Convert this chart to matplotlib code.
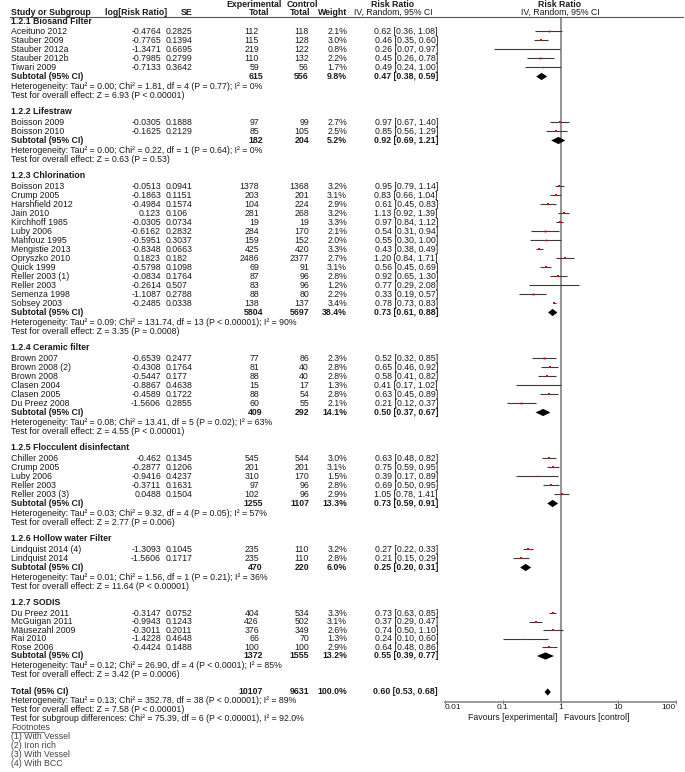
import matplotlib
matplotlib.use("Agg")
import matplotlib.pyplot as plt
from matplotlib.transforms import blended_transform_factory
from matplotlib.lines import Line2D

plt.rcParams['font.family'] = ['Liberation Sans', 'DejaVu Sans']

# ---- data ----
group_titles = ["1.2.1 Biosand Filter", "1.2.2 Lifestraw", "1.2.3 Chlorination",
                "1.2.4 Ceramic filter", "1.2.5 Flocculent disinfectant",
                "1.2.6 Hollow water Filter", "1.2.7 SODIS"]
group_sizes = [5, 2, 14, 6, 5, 2, 5]

study_names = ["Aceituno 2012", "Stauber 2009", "Stauber 2012a", "Stauber 2012b", "Tiwari 2009",
               "Boisson 2009", "Boisson 2010",
               "Boisson 2013", "Crump 2005", "Harshfield 2012", "Jain 2010", "Kirchhoff 1985",
               "Luby 2006", "Mahfouz 1995", "Mengistie 2013", "Opryszko 2010", "Quick 1999",
               "Reller 2003 (1)", "Reller 2003", "Semenza 1998", "Sobsey 2003",
               "Brown 2007", "Brown 2008 (2)", "Brown 2008", "Clasen 2004", "Clasen 2005", "Du Preez 2008",
               "Chiller 2006", "Crump 2005", "Luby 2006", "Reller 2003", "Reller 2003 (3)",
               "Lindquist 2014 (4)", "Lindquist 2014",
               "Du Preez 2011", "McGuigan 2011", "Mäusezahl 2009", "Rai 2010", "Rose 2006"]
log_rr = [-0.4764, -0.7765, -1.3471, -0.7985, -0.7133,
          -0.0305, -0.1625,
          -0.0513, -0.1863, -0.4984, 0.123, -0.0305, -0.6162, -0.5951, -0.8348, 0.1823,
          -0.5798, -0.0834, -0.2614, -1.1087, -0.2485,
          -0.6539, -0.4308, -0.5447, -0.8867, -0.4589, -1.5606,
          -0.462, -0.2877, -0.9416, -0.3711, 0.0488,
          -1.3093, -1.5606,
          -0.3147, -0.9943, -0.3011, -1.4228, -0.4424]
se = [0.2825, 0.1394, 0.6695, 0.2799, 0.3642,
      0.1888, 0.2129,
      0.0941, 0.1151, 0.1574, 0.106, 0.0734, 0.2832, 0.3037, 0.0663, 0.182,
      0.1098, 0.1764, 0.507, 0.2788, 0.0338,
      0.2477, 0.1764, 0.177, 0.4638, 0.1722, 0.2855,
      0.1345, 0.1206, 0.4237, 0.1631, 0.1504,
      0.1045, 0.1717,
      0.0752, 0.1243, 0.2011, 0.4648, 0.1488]
exp_total = [112, 115, 219, 110, 59,
             97, 85,
             1378, 203, 104, 281, 19, 284, 159, 425, 2486, 69, 87, 83, 88, 138,
             77, 81, 88, 15, 88, 60,
             545, 201, 310, 97, 102,
             235, 235,
             404, 426, 376, 66, 100]
ctl_total = [118, 128, 122, 132, 56,
             99, 105,
             1368, 201, 224, 268, 19, 170, 152, 420, 2377, 91, 96, 96, 80, 137,
             86, 40, 40, 17, 54, 55,
             544, 201, 170, 96, 96,
             110, 110,
             534, 502, 349, 70, 100]
weights = [2.1, 3.0, 0.8, 2.2, 1.7,
           2.7, 2.5,
           3.2, 3.1, 2.9, 3.2, 3.3, 2.1, 2.0, 3.3, 2.7, 3.1, 2.8, 1.2, 2.2, 3.4,
           2.3, 2.8, 2.8, 1.3, 2.8, 2.1,
           3.0, 3.1, 1.5, 2.8, 2.9,
           3.2, 2.8,
           3.3, 3.1, 2.6, 1.3, 2.9]
rr = [0.62, 0.46, 0.26, 0.45, 0.49,
      0.97, 0.85,
      0.95, 0.83, 0.61, 1.13, 0.97, 0.54, 0.55, 0.43, 1.20, 0.56, 0.92, 0.77, 0.33, 0.78,
      0.52, 0.65, 0.58, 0.41, 0.63, 0.21,
      0.63, 0.75, 0.39, 0.69, 1.05,
      0.27, 0.21,
      0.73, 0.37, 0.74, 0.24, 0.64]
ci_lo = [0.36, 0.35, 0.07, 0.26, 0.24,
         0.67, 0.56,
         0.79, 0.66, 0.45, 0.92, 0.84, 0.31, 0.30, 0.38, 0.84, 0.45, 0.65, 0.29, 0.19, 0.73,
         0.32, 0.46, 0.41, 0.17, 0.45, 0.12,
         0.48, 0.59, 0.17, 0.50, 0.78,
         0.22, 0.15,
         0.63, 0.29, 0.50, 0.10, 0.48]
ci_hi = [1.08, 0.60, 0.97, 0.78, 1.00,
         1.40, 1.29,
         1.14, 1.04, 0.83, 1.39, 1.12, 0.94, 1.00, 0.49, 1.71, 0.69, 1.30, 2.08, 0.57, 0.83,
         0.85, 0.92, 0.82, 1.02, 0.89, 0.37,
         0.82, 0.95, 0.89, 0.95, 1.41,
         0.33, 0.29,
         0.85, 0.47, 1.10, 0.60, 0.86]

sub_exp = [615, 182, 5804, 409, 1255, 470, 1372]
sub_ctl = [556, 204, 5697, 292, 1107, 220, 1555]
sub_weight = [9.8, 5.2, 38.4, 14.1, 13.3, 6.0, 13.2]
sub_rr = [0.47, 0.92, 0.73, 0.50, 0.73, 0.25, 0.55]
sub_lo = [0.38, 0.69, 0.61, 0.37, 0.59, 0.20, 0.39]
sub_hi = [0.59, 1.21, 0.88, 0.67, 0.91, 0.31, 0.77]
sub_het = ["Tau\u00b2 = 0.00; Chi\u00b2 = 1.81, df = 4 (P = 0.77); I\u00b2 = 0%",
           "Tau\u00b2 = 0.00; Chi\u00b2 = 0.22, df = 1 (P = 0.64); I\u00b2 = 0%",
           "Tau\u00b2 = 0.09; Chi\u00b2 = 131.74, df = 13 (P < 0.00001); I\u00b2 = 90%",
           "Tau\u00b2 = 0.08; Chi\u00b2 = 13.41, df = 5 (P = 0.02); I\u00b2 = 63%",
           "Tau\u00b2 = 0.03; Chi\u00b2 = 9.32, df = 4 (P = 0.05); I\u00b2 = 57%",
           "Tau\u00b2 = 0.01; Chi\u00b2 = 1.56, df = 1 (P = 0.21); I\u00b2 = 36%",
           "Tau\u00b2 = 0.12; Chi\u00b2 = 26.90, df = 4 (P < 0.0001); I\u00b2 = 85%"]
sub_z = ["Z = 6.93 (P < 0.00001)", "Z = 0.63 (P = 0.53)", "Z = 3.35 (P = 0.0008)",
         "Z = 4.55 (P < 0.00001)", "Z = 2.77 (P = 0.006)", "Z = 11.64 (P < 0.00001)",
         "Z = 3.42 (P = 0.0006)"]

total_exp, total_ctl, total_weight = 10107, 9631, 100.0
total_rr, total_lo, total_hi = 0.60, 0.53, 0.68
total_het = "Tau\u00b2 = 0.13; Chi\u00b2 = 352.78, df = 38 (P < 0.00001); I\u00b2 = 89%"
total_z = "Z = 7.58 (P < 0.00001)"
subgroup_diff = "Chi\u00b2 = 75.39, df = 6 (P < 0.00001), I\u00b2 = 92.0%"
footnotes = ["(1) With Vessel", "(2) Iron rich", "(3) With Vessel", "(4) With BCC"]

xticks = [0.01, 0.1, 1, 10, 100]
xtick_labels = ["0.01", "0.1", "1", "10", "100"]

# ---- figure ----
W, H = 685, 772
fig = plt.figure(figsize=(W / 100, H / 100), dpi=100)
ax_top, ax_bot = 17, 702
ax = fig.add_axes([445 / W, 1 - ax_bot / H, 231 / W, (ax_bot - ax_top) / H])
ax.set_xscale('log')
ax.set_xlim(0.01, 100)
ax.set_ylim(ax_bot, ax_top)   # y in pixel rows from top

trans = blended_transform_factory(fig.transFigure, ax.transData)
FS = 6.3
TXT = '#1a1a1a'


def put(xpx, y, s, ha='left', bold=False, color=TXT):
    return fig.text(xpx / W, y, s, transform=trans, ha=ha, va='center', fontsize=FS,
                    fontweight='bold' if bold else 'normal', color=color)


# header
put(254, 4.5, "Experimental", ha='center', bold=True)
put(302, 4.5, "Control", ha='center', bold=True)
put(393, 4.5, "Risk Ratio", ha='center', bold=True)
put(560, 4.5, "Risk Ratio", ha='center', bold=True)
put(11, 12.7, "Study or Subgroup", bold=True)
put(167, 12.7, "log[Risk Ratio]", ha='right', bold=True)
put(193, 12.7, "SE", ha='right', bold=True)
put(269, 12.7, "Total", ha='right', bold=True)
put(310, 12.7, "Total", ha='right', bold=True)
put(347, 12.7, "Weight", ha='right', bold=True)
put(393, 12.7, "IV, Random, 95% CI", ha='center')
put(560, 12.7, "IV, Random, 95% CI", ha='center')
fig.add_artist(Line2D([10 / W, 683 / W], [ax_top, ax_top], transform=trans,
                      color='#555555', lw=0.8))

ci_color = '#3a3a3a'


def diamond(y, mid, lo, hi):
    ax.fill([lo, mid, hi, mid], [y, y - 3.6, y, y + 3.6], color='black', lw=0, clip_on=False)


y = 21.0
k = 0
for g, title in enumerate(group_titles):
    put(11, y, title, bold=True)
    y += 10.5
    for _ in range(group_sizes[g]):
        put(11, y, study_names[k])
        put(161, y, str(log_rr[k]), ha='right')
        put(166, y, str(se[k]))
        put(259, y, str(exp_total[k]), ha='right')
        put(309, y, str(ctl_total[k]), ha='right')
        put(347, y, f"{weights[k]:.1f}%", ha='right')
        put(438, y, f"{rr[k]:.2f} [{ci_lo[k]:.2f}, {ci_hi[k]:.2f}]", ha='right')
        ax.plot([ci_lo[k], ci_hi[k]], [y, y], color=ci_color, lw=0.8, solid_capstyle='butt')
        ax.plot(rr[k], y, marker='s', color='#e00000', ms=weights[k] * 0.6, mew=0, ls='none')
        k += 1
        y += 9.0 if g < len(group_titles) - 1 else 8.5
    put(11, y, "Subtotal (95% CI)", bold=True)
    put(263, y, str(sub_exp[g]), ha='right', bold=True)
    put(309, y, str(sub_ctl[g]), ha='right', bold=True)
    put(347, y, f"{sub_weight[g]:.1f}%", ha='right', bold=True)
    put(438, y, f"{sub_rr[g]:.2f} [{sub_lo[g]:.2f}, {sub_hi[g]:.2f}]", ha='right', bold=True)
    diamond(y, sub_rr[g], sub_lo[g], sub_hi[g])
    y += 10.0
    put(11, y, "Heterogeneity: " + sub_het[g])
    y += 9.0
    put(11, y, "Test for overall effect: " + sub_z[g])
    y += 16.5 if g < len(group_titles) - 1 else 17.0

put(11, y, "Total (95% CI)", bold=True)
put(263, y, str(total_exp), ha='right', bold=True)
put(309, y, str(total_ctl), ha='right', bold=True)
put(347, y, f"{total_weight:.1f}%", ha='right', bold=True)
put(438, y, f"{total_rr:.2f} [{total_lo:.2f}, {total_hi:.2f}]", ha='right', bold=True)
diamond(y, total_rr, total_lo, total_hi)
y += 9.0
put(11, y, "Heterogeneity: " + total_het)
y += 9.0
put(11, y, "Test for overall effect: " + total_z)
y += 9.0
put(11, y, "Test for subgroup differences: " + subgroup_diff)
y += 9.0
put(11, y, "Footnotes", color='#444444')
fig.add_artist(Line2D([11 / W, 44 / W], [y + 3.8, y + 3.8], transform=trans,
                      color='#444444', lw=0.5))
for note in footnotes:
    y += 9.0
    put(11, y, note, color='#444444')

# forest axes styling
ax.axvline(1, color='#808080', lw=1.2, zorder=0)
for side in ['top', 'right', 'left']:
    ax.spines[side].set_visible(False)
ax.spines['bottom'].set_color('#8a8a8a')
ax.spines['bottom'].set_linewidth(1.2)
ax.set_yticks([])
ax.set_xticks(xticks)
ax.set_xticklabels(xtick_labels)
ax.minorticks_off()
ax.tick_params(axis='x', direction='inout', length=3.5, width=0.8, color='#808080',
               labelsize=6.0, labelcolor=TXT, pad=0)
lbls = ax.get_xticklabels()
lbls[0].set_ha('left')
lbls[-1].set_ha('right')
ax.patch.set_alpha(0)

ax.text(0.87, 717.5, "Favours [experimental]", ha='right', va='center', fontsize=FS,
        color=TXT, clip_on=False)
ax.text(1.15, 717.5, "Favours [control]", ha='left', va='center', fontsize=FS,
        color=TXT, clip_on=False)

fig.savefig("out.png", dpi=100)
